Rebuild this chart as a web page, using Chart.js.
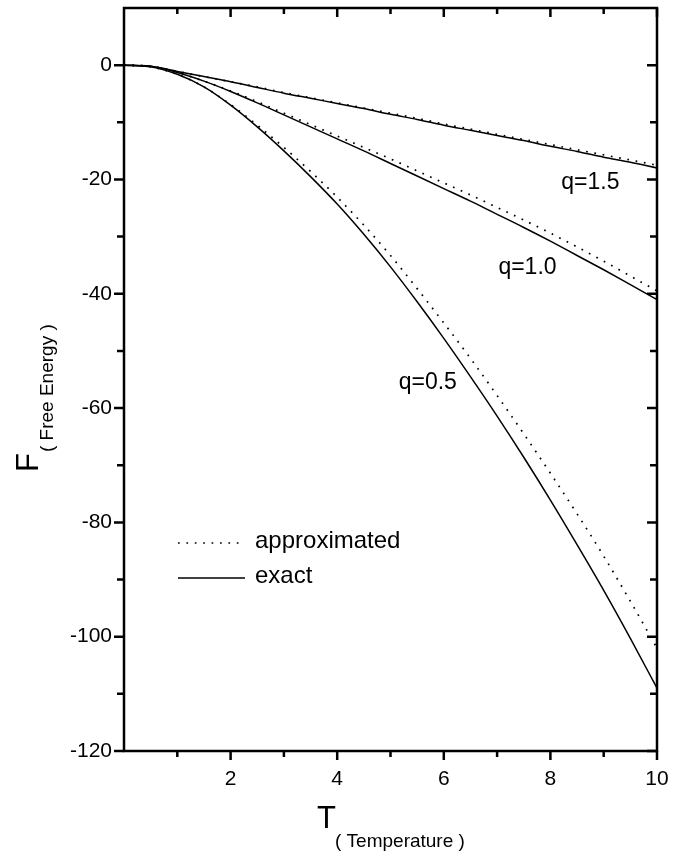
<!DOCTYPE html>
<html>
<head>
<meta charset="utf-8">
<script src="https://cdn.jsdelivr.net/npm/chart.js@4.4.1/dist/chart.umd.min.js"></script>
<style>
  body { margin: 0; background: #fff; }
  canvas { display: block; }
</style>
</head>
<body>
<canvas id="free_chart" width="699" height="855"></canvas>
<script>
// temperature grid
var T = [0, 0.5, 1, 1.5, 2, 2.5, 3, 3.5, 4, 4.5, 5, 5.5, 6, 6.5, 7, 7.5, 8, 8.5, 9, 9.5, 10];

// free energy
var exact_q05 = [0, -0.3, -1.6, -3.8, -7.0, -10.8, -15.0, -19.5, -24.3, -29.6, -35.3, -41.4, -47.8, -54.5, -61.4, -68.6, -76.1, -83.9, -91.9, -100.3, -109.0];
var approx_q05 = [0, -0.3, -1.6, -3.8, -6.9, -10.5, -14.4, -18.6, -23.1, -28.0, -33.3, -39.1, -45.1, -51.3, -57.8, -64.5, -71.4, -78.5, -85.9, -93.8, -102.0];
var exact_q10 = [0, -0.2, -1.3, -2.8, -4.6, -6.6, -8.7, -10.8, -12.9, -15.0, -17.2, -19.4, -21.6, -23.8, -26.1, -28.4, -30.8, -33.3, -35.8, -38.4, -41.0];
var approx_q10 = [0, -0.2, -1.3, -2.8, -4.5, -6.4, -8.4, -10.4, -12.4, -14.4, -16.4, -18.5, -20.6, -22.7, -24.9, -27.1, -29.4, -31.8, -34.3, -36.9, -39.5];
var exact_q15 = [0, -0.2, -1.1, -2.0, -2.9, -3.9, -4.9, -5.8, -6.7, -7.6, -8.6, -9.5, -10.5, -11.4, -12.3, -13.2, -14.2, -15.1, -16.1, -17.0, -18.0];
var approx_q15 = [0, -0.2, -1.1, -2.0, -2.9, -3.8, -4.8, -5.7, -6.6, -7.5, -8.4, -9.3, -10.3, -11.2, -12.1, -13.0, -13.9, -14.8, -15.7, -16.6, -17.5];

var xTicks = [2, 4, 6, 8, 10];
var yTicks = [0, -20, -40, -60, -80, -100, -120];

// curve labels: text, T, F
var curveLabels = [
    ['q=1.5', 8.75, -20.5],
    ['q=1.0', 7.57, -35.5],
    ['q=0.5', 5.7, -55.5]
];

var FONT = "'Liberation Sans', Arial, Helvetica, sans-serif";

function pts(vals) {
    return T.map(function (t, i) { return { x: t, y: vals[i] }; });
}

function line(vals, dotted) {
    return {
        data: pts(vals),
        borderColor: '#000',
        borderWidth: dotted ? 1.7 : 1.5,
        borderDash: dotted ? [1.7, 6.7] : [],
        pointRadius: 0,
        fill: false,
        cubicInterpolationMode: 'monotone'
    };
}

function noPad(s) {
    s.paddingTop = 0; s.paddingBottom = 0;
    s.paddingLeft = 0; s.paddingRight = 0;
}

var framePlugin = {
    id: 'frame',
    afterDraw: function (chart) {
        var ctx = chart.ctx;
        var a = chart.chartArea;
        var xs = chart.scales.x, ys = chart.scales.y;
        ctx.save();
        ctx.strokeStyle = '#000';
        ctx.lineWidth = 2.5;
        ctx.strokeRect(a.left, a.top, a.right - a.left, a.bottom - a.top);

        // x ticks: bottom outward, top inward
        for (var v = 1; v <= 10; v++) {
            var px = xs.getPixelForValue(v);
            var len = v % 2 === 0 ? 9 : 6;
            ctx.beginPath();
            ctx.moveTo(px, a.bottom); ctx.lineTo(px, a.bottom + len);
            ctx.moveTo(px, a.top); ctx.lineTo(px, a.top + len);
            ctx.stroke();
        }
        // y ticks: left outward, right inward
        for (var y = -120; y <= 0; y += 10) {
            var py = ys.getPixelForValue(y);
            var l = y % 20 === 0 ? 10 : 7;
            ctx.beginPath();
            ctx.moveTo(a.left, py); ctx.lineTo(a.left - l, py);
            ctx.moveTo(a.right, py); ctx.lineTo(a.right - l, py);
            ctx.stroke();
        }

        // curve labels
        ctx.fillStyle = '#000';
        ctx.font = '23px ' + FONT;
        ctx.textAlign = 'center';
        ctx.textBaseline = 'middle';
        curveLabels.forEach(function (c) {
            ctx.fillText(c[0], xs.getPixelForValue(c[1]), ys.getPixelForValue(c[2]));
        });

        // legend
        var lx = a.left + 54, ly = a.top + 535;
        ctx.lineWidth = 1.7;
        ctx.setLineDash([1.7, 6.7]);
        ctx.beginPath(); ctx.moveTo(lx, ly); ctx.lineTo(lx + 67, ly); ctx.stroke();
        ctx.setLineDash([]);
        ctx.lineWidth = 1.5;
        ctx.beginPath(); ctx.moveTo(lx, ly + 35); ctx.lineTo(lx + 67, ly + 35); ctx.stroke();
        ctx.font = '24px ' + FONT;
        ctx.textAlign = 'left';
        ctx.fillText('approximated', lx + 77, ly - 2);
        ctx.fillText('exact', lx + 77, ly + 33);

        // axis titles
        ctx.font = '31px ' + FONT;
        ctx.textBaseline = 'alphabetic';
        ctx.fillText('T', 317, 828);
        ctx.font = '19px ' + FONT;
        ctx.fillText('( Temperature )', 335, 847);

        ctx.translate(38, 472);
        ctx.rotate(-Math.PI / 2);
        ctx.font = '31px ' + FONT;
        ctx.fillText('F', 0, 0);
        ctx.font = '19px ' + FONT;
        ctx.fillText('( Free Energy )', 20, 15);
        ctx.restore();
    }
};

var free_chart = document.getElementById('free_chart');
var My_free_chart = new Chart(free_chart, {
    type: 'line',
    data: {
        datasets: [
            line(approx_q05, true), line(exact_q05, false),
            line(approx_q10, true), line(exact_q10, false),
            line(approx_q15, true), line(exact_q15, false)
        ]
    },
    options: {
        responsive: false,
        animation: false,
        layout: { padding: { top: 8, right: 42, left: 0, bottom: 0 } },
        plugins: { legend: { display: false }, tooltip: { enabled: false } },
        scales: {
            x: {
                type: 'linear',
                min: 0, max: 10,
                afterFit: function (s) { s.height = 104; noPad(s); },
                afterBuildTicks: function (s) { s.ticks = xTicks.map(function (v) { return { value: v }; }); },
                grid: { display: false, drawTicks: false },
                border: { display: false },
                ticks: { color: '#000', padding: 16, maxRotation: 0, font: { family: FONT, size: 21 } }
            },
            y: {
                type: 'linear',
                min: -120, max: 10,
                afterFit: function (s) { s.width = 124; noPad(s); },
                afterBuildTicks: function (s) { s.ticks = yTicks.map(function (v) { return { value: v }; }); },
                grid: { display: false, drawTicks: false },
                border: { display: false },
                ticks: { color: '#000', padding: 12, font: { family: FONT, size: 21 } }
            }
        }
    },
    plugins: [framePlugin]
});
</script>
</body>
</html>
